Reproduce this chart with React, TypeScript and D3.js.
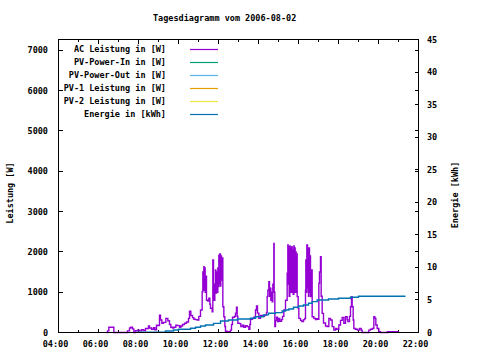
import React from "react";
import * as d3 from "d3";

// AC Leistung in W (Zeit, Wert)
const acZeit = [
  "06:24", "06:27", "06:31", "06:45", "06:46", "07:24", "07:27", "07:33", "07:37", "07:42",
  "07:46", "07:49", "07:51", "07:57", "08:03", "08:09", "08:15", "08:21", "08:30", "08:33",
  "08:39", "08:45", "08:49", "08:54", "08:58", "09:03", "09:06", "09:10", "09:15", "09:22",
  "09:28", "09:33", "09:37", "09:42", "09:46", "09:52", "09:57", "10:03", "10:07", "10:12",
  "10:18", "10:24", "10:30", "10:33", "10:37", "10:42", "10:46", "10:51", "10:56", "11:01",
  "11:06", "11:11", "11:13", "11:14", "11:16", "11:17", "11:19", "11:20", "11:22", "11:24",
  "11:28", "11:31", "11:34", "11:36", "11:41", "11:43", "11:45", "11:47", "11:49", "11:51",
  "11:52", "11:54", "11:56", "11:58", "12:00", "12:01", "12:03", "12:04", "12:06", "12:07",
  "12:09", "12:11", "12:13", "12:16", "12:19", "12:21", "12:27", "12:31", "12:36", "12:39",
  "12:42", "12:48", "12:51", "12:54", "12:56", "12:58", "13:03", "13:07", "13:12", "13:16",
  "13:21", "13:26", "13:31", "13:34", "13:36", "13:42", "13:46", "13:51", "13:54", "13:57",
  "14:01", "14:06", "14:12", "14:18", "14:24", "14:26", "14:28", "14:31", "14:33", "14:35",
  "14:37", "14:39", "14:41", "14:43", "14:46", "14:47", "14:49", "14:51", "14:54", "14:57",
  "15:01", "15:04", "15:09", "15:12", "15:16", "15:21", "15:26", "15:28", "15:29", "15:31",
  "15:32", "15:34", "15:35", "15:37", "15:38", "15:40", "15:41", "15:43", "15:44", "15:46",
  "15:47", "15:49", "15:50", "15:52", "15:53", "15:55", "15:56", "15:59", "16:01", "16:06",
  "16:10", "16:15", "16:19", "16:21", "16:22", "16:24", "16:25", "16:27", "16:28", "16:30",
  "16:31", "16:33", "16:34", "16:36", "16:39", "16:41", "16:46", "16:51", "16:55", "16:59",
  "17:01", "17:03", "17:06", "17:08", "17:11", "17:15", "17:21", "17:26", "17:31", "17:36",
  "17:41", "17:46", "17:51", "17:55", "18:01", "18:06", "18:11", "18:16", "18:21", "18:26",
  "18:28", "18:33", "18:36", "18:39", "18:41", "18:44", "18:46", "18:51", "18:57", "19:03",
  "19:08", "19:11", "19:27", "19:31", "19:36", "19:41", "19:46", "19:49", "19:52", "19:56",
  "20:01", "20:06", "20:26", "20:27", "21:01",
];
const acWert = [
  0, 40, 130, 130, 0, 0, 40, 110, 130, 90,
  0, 0, 45, 60, 40, 70, 50, 100, 160, 110,
  80, 120, 70, 180, 170, 430, 310, 230, 250, 350,
  290, 200, 130, 110, 130, 180, 170, 130, 160, 200,
  230, 260, 350, 530, 420, 370, 330, 320, 310, 400,
  560, 1010, 1500, 1050, 1630, 1150, 1600, 1000, 1400, 800,
  780, 850, 700, 600, 515, 1800, 1100, 800, 1200, 1550,
  980, 1500, 1000, 1600, 1140, 1920, 1200, 1950, 1150, 1900,
  1300, 1850, 640, 390, 150, 30, 10, 20, 60, 200,
  380, 400, 480, 625, 400, 230, 220, 150, 180, 130,
  170, 145, 80, 200, 330, 350, 380, 560, 660, 480,
  350, 420, 400, 430, 500, 890, 1050, 1260, 900, 1100,
  800, 1000, 760, 1200, 2210, 1000, 145, 300, 380, 270,
  350, 280, 320, 400, 560, 800, 1470, 2170, 1200, 2130,
  900, 2150, 1100, 2100, 1000, 2130, 1300, 2050, 950, 2150,
  1200, 2100, 1000, 2000, 1100, 1950, 890, 600, 350, 300,
  270, 320, 350, 1050, 1800, 1000, 2170, 1100, 2050, 900,
  2100, 1000, 1900, 890, 1550, 390, 350, 320, 340, 330,
  1220, 1500, 1880, 900, 475, 235, 160, 145, 350, 310,
  145, 60, 100, 80, 185, 300, 375, 230, 390, 320,
  270, 400, 640, 890, 640, 310, 100, 80, 60, 100,
  60, 0, 0, 60, 80, 100, 390, 350, 185, 100,
  20, 0, 0, 20, 20,
];

// Energie in kWh (Zeit, Wert)
const energieZeit = [
  "07:56", "09:21", "09:45", "10:00", "10:36", "10:51", "11:06", "11:21", "11:45", "12:06",
  "12:30", "12:57", "13:36", "13:51", "14:15", "14:30", "14:51", "15:11", "15:21", "15:31",
  "15:45", "16:00", "16:15", "16:30", "16:41", "16:56", "17:30", "18:00", "18:36", "19:00",
  "21:21",
];
const energieWert = [
  0.05, 0.23, 0.38, 0.5, 0.65, 0.8, 1.0, 1.15, 1.4, 1.77,
  1.92, 2.08, 2.2, 2.43, 2.7, 2.95, 3.05, 3.3, 3.46, 3.6,
  3.87, 4.07, 4.23, 4.49, 4.74, 5.0, 5.15, 5.26, 5.42, 5.57,
  5.57,
];

const legende = [
  { name: "AC Leistung in [W]", farbe: "#9400d3" },
  { name: "PV-Power-In in [W]", farbe: "#009e73" },
  { name: "PV-Power-Out in [W]", farbe: "#56b4e9" },
  { name: "PV-1 Leistung in [W]", farbe: "#e69f00" },
  { name: "PV-2 Leistung in [W]", farbe: "#f0e442" },
  { name: "Energie in [kWh]", farbe: "#0072b2" },
];

const leistungTicks = [0, 1000, 2000, 3000, 4000, 5000, 6000, 7000];
const energieTicks = [0, 5, 10, 15, 20, 25, 30, 35, 40, 45];

const font = "'DejaVu Sans Mono', monospace";

export default function App() {
  const parse = d3.timeParse("%H:%M");
  const left = 58.5, right = 418.5, top = 39.5, bottom = 332.5;

  const x = d3.scaleTime().domain([parse("04:00")!, parse("22:00")!]).range([left, right]);
  const y = d3.scaleLinear().domain([0, 7270]).range([bottom, top]);
  const y2 = d3.scaleLinear().domain([0, 45]).range([bottom, top]);

  const ac = acZeit.map((t, i) => ({ t: parse(t)!, v: acWert[i] }));
  const en = energieZeit.map((t, i) => ({ t: parse(t)!, v: energieWert[i] }));

  const acLine = d3.line<{ t: Date; v: number }>().x((d) => x(d.t)).y((d) => y(d.v)).curve(d3.curveStepAfter);
  const enLine = d3.line<{ t: Date; v: number }>().x((d) => x(d.t)).y((d) => y2(d.v)).curve(d3.curveStepAfter);

  const major = x.ticks(d3.timeHour.every(2)!);
  const minor = x.ticks(d3.timeHour.every(1)!);
  const fmt = d3.timeFormat("%H:%M");
  const r = (v: number) => Math.round(v - 0.5) + 0.5;

  return (
    <svg width={480} height={360} style={{ position: "absolute", left: 0, top: 0, background: "#fff" }}
      fontFamily={font} fontSize={8.5} fontWeight="bold">
      <rect width={480} height={360} fill="#fff" />
      <text x={153} y={21} fill="#000">Tagesdiagramm vom 2006-08-02</text>

      <g shapeRendering="crispEdges" stroke="#000">
        {minor.map((d, i) => (
          <g key={"mx" + i}>
            <line x1={r(x(d))} x2={r(x(d))} y1={bottom} y2={bottom - 2.5} />
            <line x1={r(x(d))} x2={r(x(d))} y1={top} y2={top + 2.5} />
          </g>
        ))}
        {major.map((d, i) => (
          <g key={"x" + i}>
            <line x1={r(x(d))} x2={r(x(d))} y1={bottom} y2={bottom - 4} />
            <line x1={r(x(d))} x2={r(x(d))} y1={top} y2={top + 4} />
          </g>
        ))}
        {leistungTicks.map((v) => (
          <g key={"y" + v}>
            <line x1={left} x2={left + 4} y1={r(y(v))} y2={r(y(v))} />
            <line x1={right} x2={right - 4} y1={r(y(v))} y2={r(y(v))} />
          </g>
        ))}
        {energieTicks.map((v) => (
          <line key={"y2" + v} x1={right} x2={right - 4} y1={r(y2(v))} y2={r(y2(v))} />
        ))}
      </g>

      {major.map((d, i) => (
        <text key={"xl" + i} x={x(d) - 3} y={347} textAnchor="middle">{fmt(d)}</text>
      ))}
      {leistungTicks.map((v) => (
        <text key={"yl" + v} x={48} y={y(v) + 3} textAnchor="end">{v}</text>
      ))}
      {energieTicks.map((v) => (
        <text key={"y2l" + v} x={427} y={y2(v) + 3}>{v}</text>
      ))}

      <text transform="translate(13,193) rotate(-90)" textAnchor="middle">Leistung [W]</text>
      <text transform="translate(458,195) rotate(-90)" textAnchor="middle">Energie [kWh]</text>

      {legende.map((l, i) => (
        <g key={l.name}>
          <text x={166} y={52 + i * 13} textAnchor="end">{l.name}</text>
          <line x1={190} x2={218} y1={49.5 + i * 13} y2={49.5 + i * 13} stroke={l.farbe} strokeWidth={1.2} />
        </g>
      ))}

      <path d={acLine(ac)!} fill="none" stroke="#9400d3" strokeWidth={1.4} />
      <path d={enLine(en)!} fill="none" stroke="#0072b2" strokeWidth={1.4} />

      <rect x={left} y={top} width={right - left} height={bottom - top} fill="none" stroke="#000"
        shapeRendering="crispEdges" />
    </svg>
  );
}
